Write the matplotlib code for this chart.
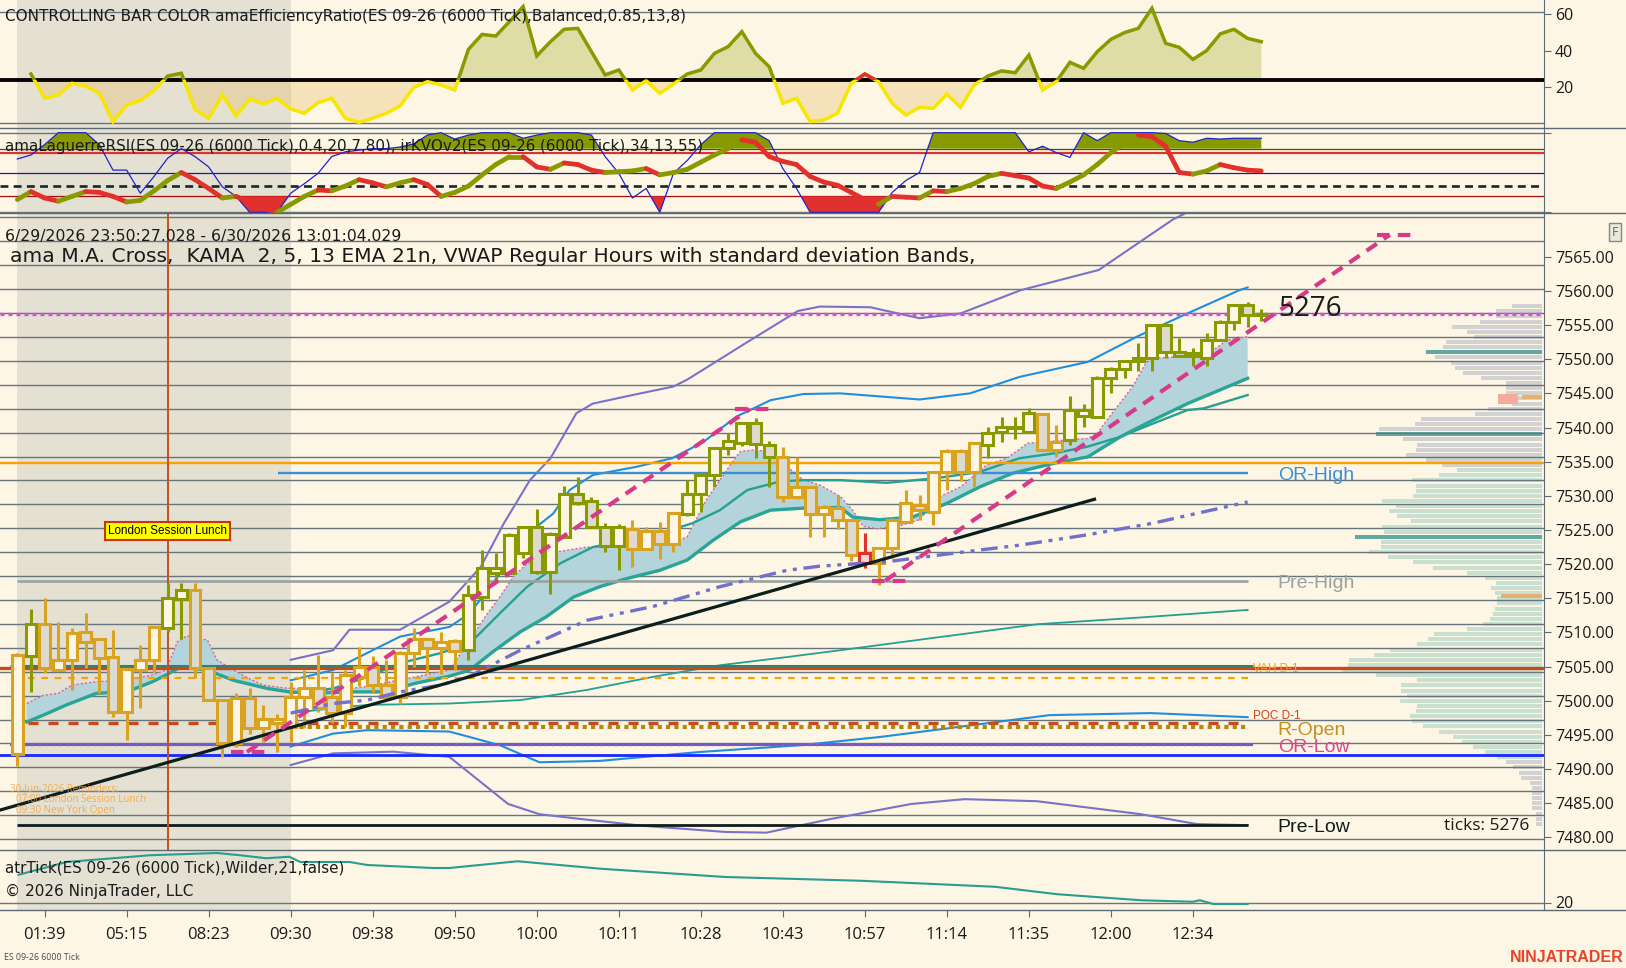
import numpy as np
import matplotlib
matplotlib.use("Agg")
import matplotlib.pyplot as plt
from matplotlib.patches import Rectangle
from matplotlib.collections import LineCollection
from matplotlib.lines import Line2D

plt.rcParams['font.family'] = ['Open Sans', 'DejaVu Sans']

# ---------------- data ----------------
time_labels = ["01:39", "05:15", "08:23", "09:30", "09:38", "09:50", "10:00", "10:11",
               "10:28", "10:43", "10:57", "11:14", "11:35", "12:00", "12:34"]
time_label_bars = [2, 8, 14, 20, 26, 32, 38, 44, 50, 56, 62, 68, 74, 80, 86]

opens = [7492.2, 7506.5, 7511.3, 7504.5, 7506.0, 7510.0, 7509.0, 7506.4, 7498.4, 7504.5,
         7506.0, 7510.6, 7514.9, 7516.2, 7504.75, 7500.1, 7493.8, 7500.4, 7496.0, 7496.8,
         7496.2, 7500.5, 7501.8, 7500.6, 7498.2, 7503.5, 7505.0, 7502.3, 7500.6, 7507.0,
         7509.1, 7507.7, 7508.8, 7507.4, 7515.2, 7518.7, 7518.7, 7521.6, 7525.5, 7518.9,
         7524.0, 7530.2, 7529.3, 7525.5, 7522.6, 7525.2, 7522.2, 7524.8, 7522.9, 7527.4,
         7530.3, 7533.0, 7537.0, 7537.7, 7540.6, 7537.4, 7535.7, 7529.9, 7531.3, 7527.4,
         7528.2, 7526.5, 7521.6, 7520.1, 7522.3, 7526.2, 7528.7, 7527.7, 7533.5, 7536.6,
         7533.5, 7537.4, 7539.4, 7540.1, 7539.4, 7542.0, 7536.7, 7538.2, 7541.7, 7541.6,
         7547.2, 7548.6, 7549.7, 7550.1, 7555.0, 7551.1, 7550.4, 7550.1, 7552.8, 7555.5,
         7557.9, 7556.6]
highs = [7507.0, 7513.5, 7515.0, 7511.6, 7510.6, 7512.8, 7509.2, 7510.4, 7504.8, 7508.2,
         7510.8, 7517.3, 7517.3, 7517.3, 7504.9, 7500.2, 7501.1, 7501.9, 7499.4, 7498.0,
         7502.8, 7504.5, 7506.7, 7504.0, 7504.5, 7507.9, 7506.5, 7506.0, 7507.3, 7510.6,
         7509.2, 7510.1, 7509.0, 7517.0, 7522.1, 7521.6, 7524.6, 7525.6, 7528.0, 7524.7,
         7531.5, 7532.8, 7529.8, 7526.0, 7525.9, 7526.4, 7525.5, 7526.2, 7527.6, 7532.3,
         7533.3, 7537.2, 7539.2, 7540.8, 7541.4, 7538.0, 7537.2, 7535.7, 7531.5, 7528.6,
         7530.1, 7526.6, 7524.5, 7522.5, 7526.7, 7530.9, 7530.1, 7533.6, 7536.8, 7536.8,
         7537.9, 7540.1, 7541.6, 7541.6, 7542.8, 7542.1, 7540.4, 7544.6, 7543.5, 7547.6,
         7548.8, 7549.9, 7552.3, 7555.2, 7555.2, 7553.1, 7551.7, 7553.9, 7555.7, 7558.0,
         7558.3, 7557.3]
lows = [7490.4, 7501.3, 7504.1, 7504.3, 7501.6, 7504.75, 7501.1, 7497.7, 7494.3, 7498.9,
        7504.0, 7510.1, 7509.1, 7503.3, 7499.9, 7491.8, 7493.3, 7495.2, 7494.0, 7492.55,
        7493.9, 7496.0, 7498.3, 7496.7, 7496.2, 7502.1, 7501.3, 7500.4, 7499.6, 7505.0,
        7504.0, 7503.9, 7504.5, 7506.0, 7513.3, 7517.7, 7518.5, 7520.9, 7518.5, 7515.7,
        7523.8, 7528.6, 7525.3, 7521.8, 7519.2, 7519.6, 7522.0, 7520.7, 7521.8, 7527.0,
        7527.7, 7531.3, 7536.0, 7537.3, 7535.5, 7531.3, 7529.1, 7529.5, 7524.0, 7524.0,
        7525.2, 7520.4, 7519.4, 7517.0, 7520.9, 7526.0, 7526.5, 7525.7, 7530.9, 7532.1,
        7531.3, 7535.5, 7537.9, 7538.3, 7539.2, 7536.5, 7535.7, 7537.4, 7540.1, 7541.4,
        7545.0, 7547.2, 7548.2, 7548.2, 7550.1, 7550.3, 7549.0, 7549.0, 7552.6, 7554.3,
        7554.7, 7555.6]
closes = [7506.7, 7511.3, 7504.75, 7506.0, 7509.9, 7508.6, 7506.2, 7498.3, 7504.6, 7506.0,
          7510.8, 7515.1, 7516.2, 7504.75, 7500.1, 7493.8, 7500.4, 7496.0, 7497.4, 7497.4,
          7500.5, 7501.8, 7498.9, 7498.2, 7503.8, 7505.0, 7502.3, 7500.6, 7507.0, 7509.1,
          7507.7, 7508.6, 7507.3, 7515.5, 7519.4, 7519.4, 7524.3, 7525.5, 7518.9, 7524.4,
          7530.2, 7528.9, 7525.5, 7522.6, 7525.5, 7522.2, 7524.8, 7522.9, 7527.5, 7530.3,
          7533.0, 7537.0, 7538.0, 7540.6, 7537.6, 7535.7, 7529.9, 7531.3, 7527.4, 7528.4,
          7526.5, 7521.3, 7520.1, 7522.3, 7526.5, 7528.9, 7527.9, 7533.5, 7536.6, 7533.5,
          7537.7, 7539.2, 7540.1, 7539.9, 7542.1, 7536.7, 7537.9, 7542.5, 7542.5, 7547.3,
          7548.6, 7549.7, 7550.1, 7555.0, 7551.1, 7550.5, 7550.9, 7552.8, 7555.5, 7557.9,
          7556.5, 7556.5]

# efficiency ratio (top panel)
er_values = [np.nan, 27.3, 14.0, 15.8, 22.2, 20.7, 16.7, 1.2, 10.3, 12.7,
             18.2, 26.2, 27.7, 7.9, 3.0, 15.8, 4.3, 13.6, 10.9, 14.0,
             8.1, 5.8, 11.6, 14.0, 3.0, 0.8, 3.0, 5.8, 9.8, 20.0,
             23.1, 21.3, 18.5, 40.8, 49.0, 48.1, 56.0, 64.2, 37.2, 45.0,
             51.8, 52.3, 39.5, 26.8, 29.5, 18.5, 23.7, 16.7, 21.8, 27.3,
             29.5, 38.6, 42.3, 50.5, 38.6, 31.3, 11.2, 14.0, 1.2, 2.1,
             5.8, 22.2, 27.3, 23.1, 11.2, 4.8, 9.0, 8.5, 16.3, 9.0,
             21.3, 26.2, 29.0, 28.0, 37.7, 18.5, 23.1, 33.7, 30.4, 39.5,
             46.3, 50.0, 52.3, 63.3, 44.1, 41.9, 35.3, 40.1, 49.3, 51.8,
             46.8, 45.0]
er_threshold = 24
red_bars = [62]

# Laguerre RSI and KVO (second panel, 0..1 scale)
rsi_values = [0.67, 0.72, 0.85, 1.0, 1.0, 1.0, 0.85, 0.53, 0.53, 0.24,
              0.45, 0.68, 0.8, 0.7, 0.57, 0.32, 0.2, 0.0, 0.0, 0.0,
              0.24, 0.36, 0.49, 0.7, 0.76, 0.78, 0.8, 0.8, 0.82, 0.86,
              0.97, 1.0, 0.92, 0.97, 1.0, 1.0, 1.0, 0.93, 0.97, 1.0,
              1.0, 1.0, 0.97, 0.7, 0.49, 0.18, 0.3, 0.0, 0.49, 0.65,
              0.85, 1.0, 1.0, 1.0, 1.0, 0.9, 0.55, 0.3, 0.0, 0.0,
              0.0, 0.0, 0.0, 0.0, 0.25, 0.4, 0.5, 1.0, 1.0, 1.0,
              1.0, 1.0, 1.0, 1.0, 0.76, 0.83, 0.75, 0.69, 1.0, 0.9,
              1.0, 1.0, 1.0, 1.0, 0.99, 0.9, 0.88, 0.93, 0.92, 0.93,
              0.93, 0.93]
kvo_values = [0.16, 0.26, 0.18, 0.14, 0.2, 0.26, 0.25, 0.2, 0.13, 0.15,
              0.27, 0.4, 0.5, 0.41, 0.3, 0.18, 0.2, 0.13, 0.05, 0.0,
              0.1, 0.2, 0.28, 0.27, 0.33, 0.41, 0.37, 0.32, 0.37, 0.41,
              0.35, 0.2, 0.25, 0.33, 0.47, 0.6, 0.7, 0.7, 0.57, 0.54,
              0.62, 0.6, 0.53, 0.5, 0.51, 0.52, 0.55, 0.47, 0.5, 0.54,
              0.63, 0.72, 0.8, 0.91, 0.88, 0.7, 0.64, 0.6, 0.45, 0.38,
              0.34, 0.25, 0.16, 0.1, 0.2, 0.19, 0.18, 0.27, 0.26, 0.3,
              0.36, 0.45, 0.49, 0.46, 0.43, 0.33, 0.3, 0.38, 0.47, 0.6,
              0.75, 0.87, 0.97, 0.95, 0.83, 0.5, 0.48, 0.52, 0.6, 0.56,
              0.53, 0.52]

# main-panel indicator lines: vertices read as (bar, price)
kama_bars = [0.7, 1.9, 3.0, 4.0, 5.8, 7.9, 9.9, 10.9, 11.7, 12.4, 13.9, 14.6, 15.8, 16.9, 18.0,
             19.4, 23.1, 25.6, 31.6, 32.6, 34.4, 35.3, 36.3, 37.3, 38.2, 39.5, 40.4, 41.7, 43.1,
             45.3, 46.5, 48.5, 49.0, 50.4, 51.4, 52.4, 52.9, 53.8, 55.1, 56.3, 57.5, 58.7, 60.2,
             61.1, 61.9, 62.9, 64.4, 66.0, 67.5, 69.0, 70.9, 72.4, 73.9, 76.3, 78.3, 79.0, 79.9,
             81.6, 82.6, 83.6, 85.6, 87.0, 88.5, 90.0]
kama_vals = [7499.6, 7500.8, 7501.1, 7502.3, 7502.8, 7503.0, 7503.8, 7504.5, 7508.6, 7509.5,
             7508.9, 7506.0, 7504.5, 7503.3, 7502.3, 7501.9, 7501.5, 7502.1, 7504.5, 7507.4,
             7512.8, 7515.2, 7518.2, 7520.1, 7520.4, 7521.8, 7522.1, 7522.5, 7522.5, 7523.05,
             7523.5, 7523.6, 7524.0, 7529.4, 7532.3, 7535.2, 7536.5, 7536.7, 7536.5, 7534.3,
             7532.3, 7531.6, 7529.9, 7527.9, 7525.5, 7525.2, 7525.5, 7526.5, 7529.9, 7531.3,
             7534.5, 7535.5, 7537.7, 7538.1, 7538.4, 7539.15, 7541.6, 7546.0, 7549.6, 7550.2,
             7550.4, 7550.6, 7552.8, 7553.3]
ema_bars = [0.7, 1.9, 3.6, 5.8, 8.0, 9.9, 10.9, 12.0, 13.9, 15.8, 18.3, 19.9, 21.9, 24.3, 26.8,
            29.2, 31.6, 33.1, 34.8, 36.8, 38.7, 40.7, 42.6, 44.6, 47.0, 49.0, 50.9, 52.9, 55.1,
            57.5, 60.2, 61.1, 63.1, 65.5, 68.0, 70.4, 72.8, 75.8, 78.3, 80.7, 83.1, 85.6, 90.0]
ema_vals = [7496.9, 7497.9, 7499.4, 7501.1, 7501.3, 7502.8, 7503.8, 7505.0, 7504.5, 7503.0,
            7501.8, 7501.3, 7501.1, 7501.3, 7501.3, 7502.6, 7503.6, 7504.5, 7507.2, 7510.1,
            7512.3, 7515.2, 7516.7, 7517.9, 7519.1, 7520.6, 7523.5, 7526.2, 7527.9, 7528.2,
            7528.3, 7526.9, 7526.5, 7526.9, 7528.9, 7531.3, 7533.3, 7534.75, 7535.7, 7538.65,
            7541.1, 7543.5, 7547.2]
mid_bars = [20.0, 23.1, 25.6, 28.0, 30.9, 33.1, 35.3, 37.3, 39.7, 42.1, 44.6, 47.0, 49.4, 51.4,
            53.4, 55.8, 57.5, 60.2, 63.6, 67.3, 70.4, 73.3, 75.8, 78.3, 80.7, 83.1, 85.6, 86.8, 90.0]
mid_vals = [7501.1, 7501.8, 7503.5, 7505.5, 7506.95, 7508.4, 7512.8, 7516.7, 7520.1, 7522.5,
            7523.5, 7524.5, 7526.0, 7527.9, 7530.85, 7532.1, 7532.3, 7532.3, 7531.9, 7532.6,
            7533.5, 7535.5, 7536.2, 7537.2, 7538.65, 7540.6, 7542.55, 7542.8, 7544.75]
slow_bars = [20.0, 23.1, 25.6, 31.6, 36.8, 41.7, 46.5, 51.4, 56.3, 60.2, 67.0, 74.6, 82.2, 90.0]
slow_vals = [7498.2, 7498.9, 7499.4, 7499.6, 7500.1, 7501.6, 7503.5, 7505.2, 7506.4, 7507.4,
             7509.2, 7511.2, 7512.2, 7513.3]
vwap_bars = [20.0, 23.1, 25.6, 28.0, 31.0, 33.0, 36.8, 41.7, 46.5, 51.4, 56.3, 58.7, 63.6,
             68.5, 73.4, 78.3, 83.1, 90.0]
vwap_vals = [7498.2, 7499.6, 7500.1, 7501.3, 7502.3, 7503.5, 7507.4, 7511.8, 7513.8, 7516.7,
             7519.1, 7519.7, 7520.35, 7521.6, 7522.8, 7524.3, 7526.0, 7529.1]
up1_bars = [20.0, 23.1, 25.6, 28.0, 31.6, 33.1, 35.5, 38.0, 39.2, 40.4, 42.1, 45.3, 47.9, 50.2,
            52.6, 55.1, 57.5, 60.2, 66.0, 69.7, 73.3, 78.3, 81.9, 85.6, 89.4, 90.0]
up1_vals = [7503.0, 7504.5, 7507.0, 7509.4, 7510.8, 7512.8, 7519.1, 7525.5, 7527.4, 7530.85,
            7533.05, 7534.25, 7535.5, 7537.9, 7541.6, 7544.0, 7544.9, 7545.0, 7544.1, 7545.0,
            7547.4, 7549.6, 7553.3, 7556.7, 7560.1, 7560.5]
up2_bars = [20.0, 23.1, 24.3, 28.0, 31.6, 33.9, 35.6, 37.5, 39.0, 40.9, 42.1, 45.0, 48.0, 49.0,
            53.4, 57.1, 58.7, 62.4, 66.0, 69.0, 73.4, 79.1, 84.5, 90.0]
up2_vals = [7506.0, 7507.4, 7510.4, 7510.4, 7514.5, 7519.6, 7526.0, 7532.3, 7535.5, 7542.1,
            7543.5, 7544.75, 7546.0, 7547.0, 7552.5, 7557.05, 7557.7, 7557.6, 7556.0, 7556.7,
            7560.1, 7563.05, 7570.4, 7576.0]
dn1_bars = [20.0, 23.1, 25.6, 31.6, 35.3, 38.2, 42.6, 49.9, 57.3, 63.1, 68.2, 75.5, 82.9, 90.0]
dn1_vals = [7493.3, 7495.2, 7495.7, 7495.5, 7493.5, 7491.0, 7491.2, 7492.5, 7493.5, 7494.7,
            7496.0, 7497.9, 7498.2, 7497.6]
dn2_bars = [20.0, 23.1, 27.5, 31.6, 35.9, 38.2, 41.2, 45.8, 51.8, 54.8, 59.5, 65.4, 69.3, 74.6,
            82.2, 86.3, 90.0]
dn2_vals = [7490.6, 7492.3, 7492.55, 7491.8, 7484.9, 7483.4, 7482.7, 7481.7, 7480.8, 7480.7,
            7482.7, 7484.9, 7485.6, 7485.3, 7483.4, 7481.95, 7481.8]

# ATR panel
atr_bars = [0.1, 3.6, 9.7, 14.6, 16.3, 18.2, 19.9, 20.7, 24.3, 25.6, 30.4, 31.6, 36.6, 42.7,
            51.8, 61.7, 71.5, 76.1, 82.2, 86.0, 86.5, 87.5, 90.0]
atr_vals = [23.7, 25.4, 26.3, 26.6, 26.3, 25.9, 26.1, 25.4, 25.4, 25.0, 24.6, 24.6, 25.5, 24.5,
            23.4, 22.9, 22.1, 21.1, 20.3, 20.1, 20.3, 19.8, 19.8]

# price levels
level_names = ["OR-High", "Pre-High", "R-Open", "OR-Low", "Pre-Low"]
level_prices = [7533.4, 7517.6, 7496.1, 7493.5, 7481.8]
level_colors = ["#3a8fd8", "#9aa29f", "#c39020", "#d8488c", "#111c1c"]
last_price = 7556.6
prior_high_line = 7534.75
vah_prev = 7504.75
vah_teal = 7505.1
orange_dash_level = 7503.4
poc_prev = 7496.8
blue_level = 7492.0
tick_count = 5276

# trend lines (bar, price)
black_trend = [(-1.27, 7484.0), (78.8, 7529.5)]
pink_trend1 = [(16.8, 7492.5), (53.6, 7542.7)]
pink_trend1_caps = [(15.6, 18.5, 7492.5), (52.5, 55.4, 7542.7)]
pink_trend2 = [(63.5, 7517.6), (100.4, 7568.2)]
pink_trend2_caps = [(62.5, 65.4, 7517.6), (99.5, 102.3, 7568.2)]

# volume profile rows (top row price, row step) and widths
profile_top = 7557.75
profile_step = 0.75
profile_widths = [30, 46, 46, 62, 90, 75, 68, 96, 99, 116, 107, 91, 87, 79, 61, 36, 36, 36, 36, 30,
                  54, 67, 121, 127, 163, 166, 139, 125, 126, 136, 116, 100, 85, 103, 130, 126, 126,
                  129, 160, 146, 153, 145, 131, 160, 158, 187, 161, 161, 173, 154, 129, 109, 75, 57,
                  46, 51, 47, 45, 45, 47, 49, 52, 59, 75, 108, 114, 125, 152, 168, 193, 194, 200,
                  166, 125, 141, 141, 135, 142, 125, 126, 132, 130, 119, 103, 89, 80, 69, 57, 45,
                  36, 29, 23, 21, 12, 10, 10, 10, 10, 10, 6, 6, 6]
value_area = (7491.6, 7534.0)
profile_highlight = [7551.0, 7539.0, 7524.0]

# ---------------- styling ----------------
W, H = 1626, 968
BG = "#fdf6e4"
SHADE = "#e4e0d2"
AXC = "#5c6b73"
GRID = "#66767c"
TXT = "#1a1a1a"
OLIVE = "#889a00"
ORANGE = "#d9a21f"
YELLOW = "#f7e600"
RED = "#e2302c"

fig = plt.figure(figsize=(W / 100, H / 100), dpi=100)
fig.patch.set_facecolor(BG)
XL = (-1.266, 111.68)
x_all = np.arange(len(opens))


def mkax(top, bottom, ylim):
    ax = fig.add_axes([0, 1 - bottom / H, 1544 / W, (bottom - top) / H])
    ax.set_xlim(*XL)
    ax.set_ylim(*ylim)
    ax.set_facecolor('none')
    for s in ['left', 'top', 'bottom']:
        ax.spines[s].set_visible(False)
    ax.spines['right'].set_color(AXC)
    ax.yaxis.tick_right()
    ax.tick_params(axis='y', colors=AXC, length=5, labelcolor=TXT, labelsize=11.5, pad=3)
    ax.tick_params(axis='x', bottom=False, labelbottom=False)
    ax.axvspan(0, 20, color=SHADE, zorder=0, lw=0)
    return ax


ax_er = mkax(0, 128, (-2.30, 67.84))
ax_rsi = mkax(128, 214, (-0.021, 1.059))
ax_atr = mkax(850, 910, (19.0, 27.0))

# profile axes behind main axes
ax_vp = fig.add_axes([0, 1 - 850 / H, 1544 / W, (850 - 214) / H])
ax_vp.set_zorder(0)
ax_m = mkax(214, 850, (7478.16, 7571.25))
ax_m.set_zorder(1)
ax_vp.set_xlim(1544, 0)
ax_vp.set_ylim(7478.16, 7571.25)
ax_vp.axis('off')

# ---------------- ER panel ----------------
ax_er.set_yticks([20, 40, 60])
for g in [61.1, 0.6]:
    ax_er.axhline(g, color=GRID, lw=1, zorder=1)
er = np.array(er_values, float)
ax_er.fill_between(x_all, er, er_threshold, where=er >= er_threshold, interpolate=True,
                   color='#a8b030', alpha=0.35, lw=0, zorder=1)
ax_er.fill_between(x_all, er, er_threshold, where=er < er_threshold, interpolate=True,
                   color='#e8b860', alpha=0.32, lw=0, zorder=1)
ax_er.axhline(er_threshold, color='#050505', lw=2.8, zorder=2)
l_up, = ax_er.plot(x_all, er, color=OLIVE, lw=2.5, zorder=3, solid_joinstyle='miter')
l_up.set_clip_path(Rectangle((XL[0], er_threshold), XL[1] - XL[0], 100, transform=ax_er.transData))
l_dn, = ax_er.plot(x_all, er, color=YELLOW, lw=2.5, zorder=3, solid_joinstyle='miter')
l_dn.set_clip_path(Rectangle((XL[0], -20), XL[1] - XL[0], er_threshold + 20, transform=ax_er.transData))
for b in red_bars:
    l_r, = ax_er.plot(x_all, er, color=RED, lw=2.5, zorder=4)
    l_r.set_clip_path(Rectangle((b - 0.75, er_threshold), 1.5, 100, transform=ax_er.transData))

# ---------------- RSI / KVO panel ----------------
ax_rsi.set_yticks([0, 1])
ax_rsi.set_yticklabels([])
ax_rsi.axhline(1.0, color=GRID, lw=1, zorder=1)
ax_rsi.axhline(0.0, color=GRID, lw=1, zorder=1)
ax_rsi.axhline(0.8, color='#2d5a1e', lw=0.9, zorder=1)
ax_rsi.axhline(0.75, color='#e03030', lw=1.6, zorder=1)
ax_rsi.axhline(0.5, color='#1a1aa0', lw=0.9, zorder=1)
ax_rsi.axhline(0.33, color='#0f2a2a', lw=1.9, ls=(0, (3, 2)), zorder=1)
ax_rsi.axhline(0.2, color='#a01010', lw=0.9, zorder=1)
rsi = np.array(rsi_values)
ax_rsi.fill_between(x_all, rsi, 0.8, where=rsi >= 0.8, interpolate=True, color='#879a00', lw=0, zorder=2)
ax_rsi.fill_between(x_all, rsi, 0.2, where=rsi <= 0.2, interpolate=True, color='#e03030', lw=0, zorder=2)
ax_rsi.plot(x_all, rsi, color='#2222cc', lw=0.9, zorder=3)
kvo = np.array(kvo_values)
pts = np.column_stack([x_all, kvo])
segs = np.stack([pts[:-1], pts[1:]], axis=1)
cols = [OLIVE if b >= a else RED for a, b in zip(kvo[:-1], kvo[1:])]
ax_rsi.add_collection(LineCollection(segs, colors=cols, linewidths=3.4, capstyle='round', zorder=4))

# ---------------- main panel ----------------
price_ticks = np.arange(7480, 7566, 5)
ax_m.set_yticks(price_ticks)
ax_m.set_yticklabels([f"{p:.2f}" for p in price_ticks])
for g in np.arange(7479.75, 7572, 3.5):
    ax_m.axhline(g, color=GRID, lw=1, zorder=1)

# volume profile
prof_prices = profile_top - profile_step * np.arange(len(profile_widths))
prof_cols = []
for p in prof_prices:
    if any(abs(p - h) < 0.3 for h in profile_highlight):
        prof_cols.append('#62a8a2')
    elif value_area[0] <= p <= value_area[1]:
        prof_cols.append('#c9e0d0')
    else:
        prof_cols.append('#d2d2d2')
ax_vp.barh(prof_prices, profile_widths, height=0.58, left=2, color=prof_cols, lw=0)
ax_vp.add_patch(Rectangle((26, 7543.4), 20, 1.5, color='#f6aa9c', lw=0))
ax_vp.barh([7544.45, 7515.3], [20, 41], height=0.55, left=2, color='#e6b070', lw=0)

# cloud between kama and ema
poly_x = list(kama_bars) + list(ema_bars[::-1])
poly_y = list(kama_vals) + list(ema_vals[::-1])
ax_m.fill(poly_x, poly_y, color='#b4d4dc', lw=0, zorder=2)
ax_m.plot(kama_bars, kama_vals, color='#e0609a', lw=1.0, ls=(0, (1.5, 1.5)), zorder=3)
ax_m.plot(slow_bars, slow_vals, color='#22a090', lw=1.3, zorder=3)
ax_m.plot(mid_bars, mid_vals, color='#26a090', lw=1.7, zorder=3)
ax_m.plot(ema_bars, ema_vals, color='#28a596', lw=2.4, zorder=3)

# vwap bands
ax_m.plot(up2_bars, up2_vals, color='#7a72c8', lw=1.5, zorder=3)
ax_m.plot(dn2_bars, dn2_vals, color='#7a72c8', lw=1.5, zorder=3)
ax_m.plot(up1_bars, up1_vals, color='#1f8ee0', lw=1.5, zorder=3)
ax_m.plot(dn1_bars, dn1_vals, color='#1f8ee0', lw=1.5, zorder=3)

# horizontal levels
ax_m.axhline(last_price, color='#e048e6', lw=2.4, ls=(0, (1.2, 1.2)), zorder=4)
ax_m.axhline(prior_high_line, color='#f5a300', lw=1.7, zorder=4)
ax_m.hlines(level_prices[0], 19.1, 90, color=level_colors[0], lw=1.7, zorder=4)
ax_m.hlines(level_prices[1], 0, 90, color=level_colors[1], lw=1.9, zorder=4)
ax_m.hlines(vah_teal, -0.5, 90.4, color='#1a8a80', lw=2.2, zorder=4)
ax_m.axhline(vah_prev, color='#c84a1a', lw=2.4, zorder=4)
ax_m.hlines(orange_dash_level, 0.8, 90, color='#f5a300', lw=1.6, ls=(0, (3, 3)), zorder=4)
ax_m.hlines(poc_prev, 0.8, 89.6, color='#c84a1a', lw=2.4, ls=(0, (3, 3)), zorder=4)
ax_m.hlines(level_prices[2], 20, 90, color='#b8860b', lw=3.0, ls=(0, (1, 1)), zorder=4)
ax_m.hlines(level_prices[3], -0.5, 90.4, color='#6a5acd', lw=1.5, zorder=4)
ax_m.hlines(level_prices[3], -0.5, 90.4, color='#d8488c', lw=1.0, ls=(0, (2, 3)), zorder=4)
ax_m.axhline(blue_level, color='#1428ff', lw=2.0, zorder=4)
ax_m.hlines(level_prices[4], 0, 90, color=level_colors[4], lw=2.0, zorder=4)
ax_m.axvline(11, color='#c8501e', lw=1.4, zorder=4)

for name, p, c in zip(level_names, level_prices, level_colors):
    ax_m.text(92.2, p - 0.4, name, color=c, fontsize=14, family=['Liberation Sans', 'DejaVu Sans'],
              va='center', ha='left', zorder=8)
ax_m.text(90.4, vah_prev - 0.1, "VAH D-1", color='#f5a020', fontsize=8.5, va='center', ha='left',
          family=['Liberation Sans', 'DejaVu Sans'], zorder=8)
ax_m.text(90.4, 7497.75, "POC D-1", color='#d0401a', fontsize=8.5, va='center', ha='left',
          family=['Liberation Sans', 'DejaVu Sans'], zorder=8)
ax_m.text(92.2, 7557.3, str(tick_count), color=TXT, fontsize=20, va='center', ha='left', zorder=8)
ax_m.text(104.4, 7481.7, f"ticks: {tick_count}", color=TXT, fontsize=12.5, va='center', ha='left', zorder=8)

# candles
for i in range(len(opens)):
    o, h, l, c = opens[i], highs[i], lows[i], closes[i]
    if i in red_bars:
        col = RED
    elif not np.isnan(er[i]) and er[i] >= er_threshold:
        col = OLIVE
    else:
        col = ORANGE
    up = c >= o
    if i in red_bars:
        face = '#f8d8d0'
    else:
        face = BG if up else '#dddad0'
    ax_m.plot([i, i], [l, h], color=col, lw=2.2, zorder=5, solid_capstyle='butt')
    bot = min(o, c)
    ht = max(abs(c - o), 0.12)
    ax_m.add_patch(Rectangle((i - 0.4, bot), 0.8, ht, facecolor=face, edgecolor=col, lw=2.2,
                             zorder=5.1, joinstyle='miter'))

# vwap
ax_m.plot(vwap_bars, vwap_vals, color='#7170cc', lw=2.4, ls=(0, (5, 2, 1.2, 2, 1.2, 2)), zorder=6)

# trend lines
ax_m.plot([p[0] for p in black_trend], [p[1] for p in black_trend], color='#0c1e1e', lw=2.3, zorder=7)
for tr, caps in [(pink_trend1, pink_trend1_caps), (pink_trend2, pink_trend2_caps)]:
    ax_m.plot([p[0] for p in tr], [p[1] for p in tr], color='#d83a8a', lw=3.0,
              ls=(0, (3, 2)), zorder=7)
    for x0, x1, y in caps:
        ax_m.plot([x0, x1], [y, y], color='#d83a8a', lw=3.0, ls=(0, (3, 2)), zorder=7)

# London lunch label
ax_m.text(11, 7524.8, "London Session Lunch", fontsize=8.4, color='black', ha='center', va='center',
          family=['Liberation Sans', 'DejaVu Sans'], zorder=9,
          bbox=dict(boxstyle='square,pad=0.25', fc='#ffff00', ec='#d03010', lw=1.5))
ax_m.text(-0.55, 7487.2, "30-Jun-2026 Reminders:", fontsize=7, color='#f5a030', alpha=0.8,
          va='center', zorder=8)
ax_m.text(-0.1, 7485.5, "07:00 London Session Lunch", fontsize=7, color='#f5a030', alpha=0.8,
          va='center', zorder=8)
ax_m.text(-0.1, 7483.9, "09:30 New York Open", fontsize=7, color='#f5a030', alpha=0.8,
          va='center', zorder=8)

# ---------------- ATR panel ----------------
ax_atr.set_yticks([20])
ax_atr.axhline(20, color=GRID, lw=1, zorder=1)
ax_atr.plot(atr_bars, atr_vals, color='#2a9d8f', lw=1.5, zorder=3)
ax_atr.set_xticks(time_label_bars)
ax_atr.set_xticklabels(time_labels)
ax_atr.tick_params(axis='x', bottom=True, labelbottom=True, length=5, colors=AXC,
                   labelcolor=TXT, labelsize=12, pad=7)

# ---------------- titles and frame ----------------
renderer = fig.canvas.get_renderer()


def ftext(x, y, s, right=None, **kw):
    ha = kw.pop('ha', 'left')
    t = fig.text(x / W, 1 - y / H, s, va='center', ha=ha, **kw)
    if right is not None:
        bb = t.get_window_extent(renderer=renderer)
        t.set_fontsize(t.get_fontsize() * (right - x) / bb.width)
    return t


TF = ['DejaVu Sans']
ftext(5, 17, "CONTROLLING BAR COLOR amaEfficiencyRatio(ES 09-26 (6000 Tick),Balanced,0.85,13,8)",
      right=684, fontsize=10, color=TXT, family=TF)
ftext(5, 146, "amaLaguerreRSI(ES 09-26 (6000 Tick),0.4,20,7,80), irKVOv2(ES 09-26 (6000 Tick),34,13,55)",
      right=704, fontsize=10, color=TXT, family=TF)
ftext(5, 236, "6/29/2026 23:50:27.028 - 6/30/2026 13:01:04.029", right=398, fontsize=10,
      color=TXT, family=TF)
ftext(10, 256, "ama M.A. Cross,  KAMA  2, 5, 13 EMA 21n, VWAP Regular Hours with standard deviation Bands,",
      right=975, fontsize=14, color=TXT, family=TF)
ftext(5, 868, "atrTick(ES 09-26 (6000 Tick),Wilder,21,false)", right=345, fontsize=10,
      color=TXT, family=TF)
ftext(5, 891, "\u00a9 2026 NinjaTrader, LLC", right=193, fontsize=10, color=TXT, family=TF)
ftext(4, 958, "ES 09-26 6000 Tick", fontsize=6.3, color='#4a4a4a')
ftext(1624, 958, "NINJATRADER", fontsize=11.5, color='#e8442a', fontweight='bold', ha='right',
      family=['Liberation Sans', 'DejaVu Sans'])
ftext(1615, 232, "F", fontsize=9, color='#666666', ha='center',
      bbox=dict(boxstyle='square,pad=0.2', fc='#ece8dc', ec='#7a8a90', lw=1))

for yy in [128, 213, 850, 910]:
    fig.add_artist(Line2D([0, 1], [1 - yy / H, 1 - yy / H], transform=fig.transFigure,
                          color=AXC, lw=1))

fig.savefig("out.png", dpi=100, facecolor=BG)
